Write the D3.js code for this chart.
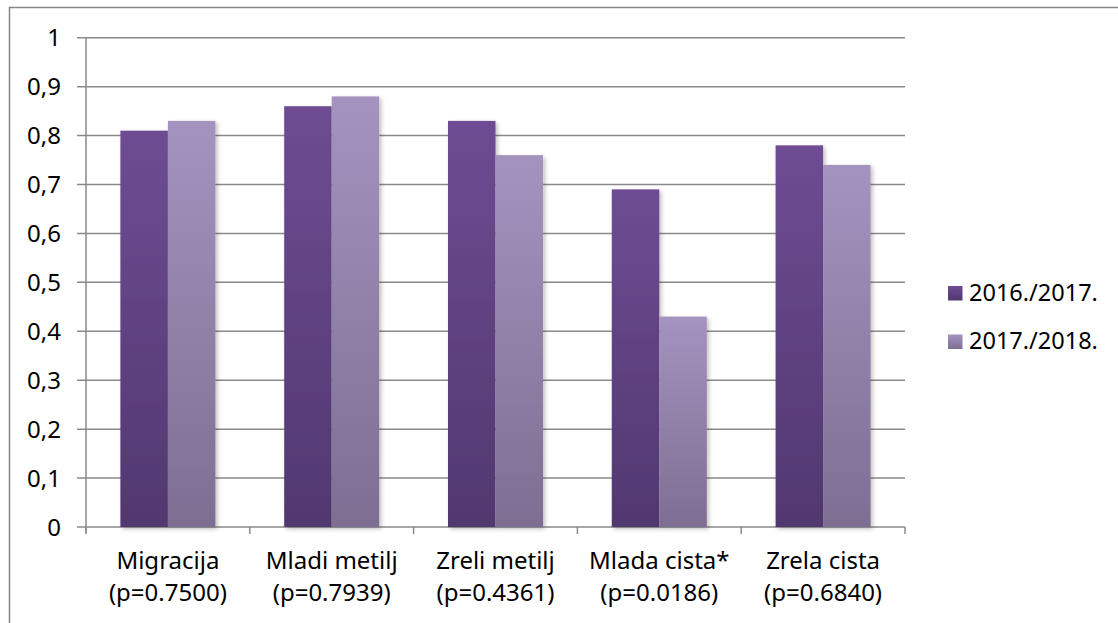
<!DOCTYPE html>
<html><head><meta charset="utf-8">
<script src="https://cdn.jsdelivr.net/npm/d3@7"></script>
<style>body{margin:0;background:#fff}svg{display:block}text{font-family:"Noto Sans",sans-serif;fill:#000}</style>
</head><body><svg id="c" width="1118" height="623"></svg>
<script>
const categories = ["Migracija", "Mladi metilj", "Zreli metilj", "Mlada cista*", "Zrela cista"];
const pLabels = ["(p=0.7500)", "(p=0.7939)", "(p=0.4361)", "(p=0.0186)", "(p=0.6840)"];
const seriesNames = ["2016./2017.", "2017./2018."];
const values2016 = [0.81, 0.86, 0.83, 0.69, 0.78];
const values2018 = [0.83, 0.88, 0.76, 0.43, 0.74];
const yTicks = [0, 0.1, 0.2, 0.3, 0.4, 0.5, 0.6, 0.7, 0.8, 0.9, 1];
const yTickLabels = ["0", "0,1", "0,2", "0,3", "0,4", "0,5", "0,6", "0,7", "0,8", "0,9", "1"];

const svg = d3.select("#c");
const defs = svg.append("defs");
const grads = [["#6E4C93", "#51386F"], ["#A493BF", "#7E6E92"]];
grads.forEach((g, i) => {
  const lg = defs.append("linearGradient").attr("id", "g" + i).attr("x1", 0).attr("y1", 0).attr("x2", 0).attr("y2", 1);
  lg.append("stop").attr("offset", "0%").attr("stop-color", g[0]);
  lg.append("stop").attr("offset", "100%").attr("stop-color", g[1]);
});
const f = defs.append("filter").attr("id", "sh").attr("x", "-20%").attr("y", "-10%").attr("width", "150%").attr("height", "130%");
f.append("feDropShadow").attr("dx", 2).attr("dy", 2).attr("stdDeviation", 2).attr("flood-color", "#000").attr("flood-opacity", 0.25);

// outer frame
svg.append("rect").attr("x", 9.5).attr("y", 7.5).attr("width", 1130).attr("height", 640)
  .attr("fill", "none").attr("stroke", "#868686").attr("stroke-width", 1.5);

const y = d3.scaleLinear().domain([0, 1]).range([527, 37.7]);
const x = d3.scaleBand().domain(categories).range([86, 905]).padding(0);
const xs = d3.scaleBand().domain(seriesNames).range([0, x.bandwidth()]).paddingInner(0).paddingOuter(0.724);

// gridlines
svg.append("g").selectAll("line").data(yTicks).join("line")
  .attr("x1", 77).attr("x2", 905).attr("y1", d => y(d)).attr("y2", d => y(d))
  .attr("stroke", "#8a8a8a").attr("stroke-width", 1.5);
// y axis line
svg.append("line").attr("x1", 86).attr("x2", 86).attr("y1", y(1)).attr("y2", 533)
  .attr("stroke", "#8a8a8a").attr("stroke-width", 1.5);
// x category ticks
const bounds = categories.map(c => x(c)).concat([x(categories[4]) + x.bandwidth()]);
svg.append("g").selectAll("line").data(bounds).join("line")
  .attr("x1", d => d).attr("x2", d => d).attr("y1", 527).attr("y2", 534)
  .attr("stroke", "#8a8a8a").attr("stroke-width", 1.5);

// y labels
svg.append("g").selectAll("text").data(yTicks).join("text")
  .attr("x", 61).attr("y", d => y(d) + 8.5).attr("text-anchor", "end")
  .style("font-size", "24px").text((d, i) => yTickLabels[i]);

// bars
const data = categories.map((c, i) => ({c, v: [values2016[i], values2018[i]]}));
const bars = svg.append("g");
data.forEach(d => {
  d.v.forEach((v, si) => {
    bars.append("rect")
      .attr("x", x(d.c) + xs(seriesNames[si]))
      .attr("y", y(v))
      .attr("width", xs.bandwidth())
      .attr("height", y(0) - y(v))
      .attr("fill", `url(#g${si})`)
      .attr("filter", "url(#sh)");
  });
});

// x labels
const xl = svg.append("g");
categories.forEach((c, i) => {
  const cx = x(c) + x.bandwidth() / 2;
  xl.append("text").attr("x", cx).attr("y", 569).attr("text-anchor", "middle").style("font-size", "24px").text(c);
  xl.append("text").attr("x", cx).attr("y", 601).attr("text-anchor", "middle").style("font-size", "24px").text(pLabels[i]);
});

// legend
const lg = svg.append("g");
seriesNames.forEach((s, i) => {
  const yy = 286 + i * 48.5;
  lg.append("rect").attr("x", 948).attr("y", yy).attr("width", 14.5).attr("height", 14.5).attr("fill", `url(#g${i})`);
  lg.append("text").attr("x", 969).attr("y", yy + 14.5).style("font-size", "23.5px").text(s);
});
</script></body></html>
